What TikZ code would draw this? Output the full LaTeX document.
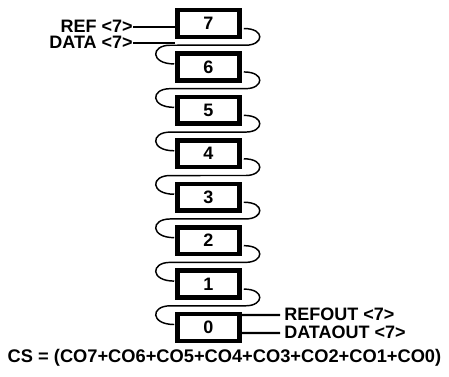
\documentclass[tikz,border=0pt]{standalone}
\usepackage{fontspec}
\setmainfont{Liberation Sans}
\usetikzlibrary{calc}
\begin{document}
\begin{tikzpicture}[x=0.75pt,y=-0.75pt,
  every node/.style={font=\fontsize{13.5}{16}\selectfont\bfseries},
  regbox/.style={draw,line width=3.4pt,fill=white,minimum width=46.5pt,minimum height=20pt,inner sep=0pt},
  chain/.style={line width=1.1pt},
  lead/.style={line width=1.6pt},
  lbl/.style={inner sep=0pt}]
\useasboundingbox (0,0) rectangle (449,376);
% boxes
\foreach \k in {7,...,0} {
  \node[regbox] (b\k) at (208.5,{23.5+(7-\k)*43.43}) {\k};
}
% chain loops between boxes
\foreach \k [evaluate=\k as \n using int(\k-1)] in {7,...,1} {
  \draw[chain] ($(b\k.east)+(2,5)$) .. controls +(22,0) and +(18,0) ..
     ($(b\k.east)+(4,21.7)$) -- ($(b\n.west)+(-5,-21.7)$)
     .. controls +(-20,0) and +(-24,0) .. ($(b\n.west)+(-1,-3)$);
}
% redraw boxes on top
\foreach \k in {7,...,0} {
  \node[regbox] at (b\k) {\k};
}
% inputs
\node[lbl,anchor=east] (ref) at (133,26) {REF <7>};
\node[lbl,anchor=east] (data) at (133,42) {DATA <7>};
\coordinate (dend) at (175,43);
\draw[lead] (ref.east |- 0,27) -- ($(b7.west)+(0,3.5)$);
\draw[lead] (data.east |- 0,43) -- (dend);
% outputs
\coordinate (ro) at (280,315);
\coordinate (do) at (280,333);
\draw[lead] ($(b0.east)+(0,-12.5)$) -- (ro);
\draw[lead] ($(b0.east)+(0,5.5)$) -- (do);
\node[lbl,anchor=west] (refout) at (284,314) {REFOUT <7>};
\node[lbl,anchor=west] (dataout) at (284,332) {DATAOUT <7>};
% formula
\node[lbl,font=\fontsize{13.7}{16}\selectfont\bfseries] (cs) at (224.5,358) {CS = (CO7+CO6+CO5+CO4+CO3+CO2+CO1+CO0)};
\end{tikzpicture}
\end{document}
